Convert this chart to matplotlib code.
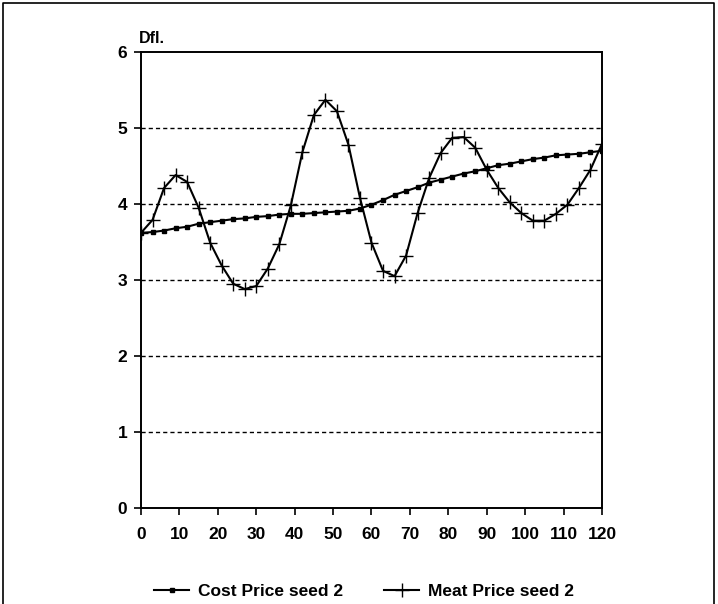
import matplotlib.pyplot as plt
from matplotlib.lines import Line2D

plt.rcParams["font.family"] = ["Liberation Sans", "DejaVu Sans"]
plt.rcParams["font.weight"] = "bold"

# time axis (every 3 units)
months = list(range(0, 121, 3))

cost_price = [3.62, 3.63, 3.65, 3.68, 3.70, 3.74, 3.76, 3.78, 3.80, 3.81,
              3.83, 3.84, 3.86, 3.87, 3.87, 3.88, 3.89, 3.90, 3.91, 3.94,
              3.99, 4.05, 4.12, 4.17, 4.22, 4.28, 4.32, 4.36, 4.40, 4.43,
              4.47, 4.51, 4.53, 4.56, 4.59, 4.61, 4.64, 4.65, 4.66, 4.68,
              4.70]

meat_price = [3.62, 3.79, 4.21, 4.38, 4.29, 3.95, 3.49, 3.19, 2.95, 2.88,
              2.92, 3.15, 3.47, 3.98, 4.68, 5.17, 5.37, 5.22, 4.78, 4.08,
              3.49, 3.12, 3.05, 3.32, 3.88, 4.34, 4.67, 4.87, 4.88, 4.74,
              4.45, 4.21, 4.02, 3.88, 3.78, 3.78, 3.87, 3.99, 4.21, 4.45,
              4.79]

x_ticks = list(range(0, 121, 10))
y_ticks = [0, 1, 2, 3, 4, 5, 6]

fig = plt.figure(figsize=(7.18, 6.04), dpi=100)
ax = fig.add_axes([0.1964, 0.159, 0.642, 0.755])

for y in y_ticks[1:-1]:
    ax.axhline(y, color="black", lw=1.0, ls=(0, (3, 2.2)), zorder=1)

ax.plot(months, cost_price, color="black", lw=1.5, marker="s", markersize=3.2,
        label="Cost Price seed 2", zorder=3)
ax.plot(months, meat_price, color="black", lw=1.5, marker="+", markersize=10,
        markeredgewidth=1.0, label="Meat Price seed 2", zorder=3)

ax.set_xlim(0, 120)
ax.set_ylim(0, 6)
ax.set_xticks(x_ticks)
ax.set_yticks(y_ticks)
ax.tick_params(axis="both", direction="out", length=5, width=1.2, labelsize=12.5)
ax.tick_params(axis="x", pad=9)
ax.tick_params(axis="y", pad=5)
for s in ax.spines.values():
    s.set_linewidth(1.4)

ax.text(-0.004, 1.012, "Dfl.", transform=ax.transAxes, fontsize=11.5, fontweight="bold",
        ha="left", va="bottom")

fig.legend(loc="center", bbox_to_anchor=(0.507, 0.02), ncol=2, frameon=False,
           fontsize=12.5, handlelength=2.0, columnspacing=2.4, handletextpad=0.5)

# scanned page frame: left, top and right edges
fig.lines.append(Line2D([0.004, 0.004, 0.995, 0.995], [0.0, 0.995, 0.995, 0.0],
                        transform=fig.transFigure, color="black", lw=1.2))

fig.savefig("out.png", dpi=100)
